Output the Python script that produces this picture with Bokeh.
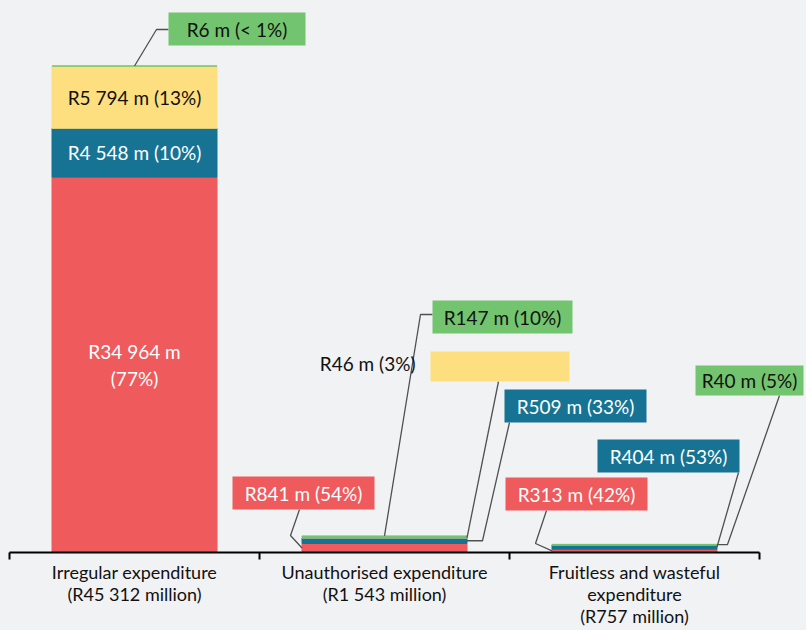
from bokeh.plotting import figure
from bokeh.models import Range1d, FixedTicker, ColumnDataSource, GlobalInlineStyleSheet
from bokeh.core.properties import value
from bokeh.embed import file_html
from bokeh.resources import INLINE

# ---------------- data ----------------
categories = ["Irregular expenditure", "Unauthorised expenditure", "Fruitless and wasteful\nexpenditure"]
red_values = [34964, 841, 313]
blue_values = [4548, 509, 404]
yellow_values = [5794, 46, 0]
green_values = [6, 147, 40]
red_pct = ["77%", "54%", "42%"]
blue_pct = ["10%", "33%", "53%"]
yellow_pct = ["13%", "3%", ""]
green_pct = ["< 1%", "10%", "5%"]

# ---------------- style ----------------
RED, BLUE, YELLOW, GREEN = "#EF5A5C", "#167394", "#FDDF80", "#73C46F"
BG = "#F1F2F4"
FONT = "Lato"
W, H = 806, 630
AXIS_H = 78
FRAME_H = H - AXIS_H
PX_PER_X = 250.0
X0 = -9 / PX_PER_X
X1 = X0 + W / PX_PER_X
Y_PER_PX = 45312 / 486.5
Y_END = FRAME_H * Y_PER_PX
BAR_W = 0.66


def fmt(v):
    return f"{v:,}".replace(",", " ")


def dx(px):  # page pixel -> data x
    return X0 + px / PX_PER_X


def dy(py):  # page pixel -> data y
    return (FRAME_H - py) * Y_PER_PX


n = len(categories)
xc = [i + 0.5 for i in range(n)]
totals = [r + b + y + g for r, b, y, g in zip(red_values, blue_values, yellow_values, green_values)]
layers = {"red": red_values, "blue": blue_values, "yellow": yellow_values, "green": green_values}
pcts = {"red": red_pct, "blue": blue_pct, "yellow": yellow_pct, "green": green_pct}
order = ["red", "blue", "yellow", "green"]

src = ColumnDataSource(dict(x=xc, **layers))

p = figure(width=W, height=H, x_range=Range1d(X0, X1), y_range=Range1d(0, Y_END),
           output_backend="svg", toolbar_location=None, y_axis_location=None,
           background_fill_color=BG, border_fill_color=BG, outline_line_color=None,
           min_border_left=0, min_border_right=0, min_border_top=0, min_border_bottom=AXIS_H)
p.stylesheets = [GlobalInlineStyleSheet(css=f"body {{ background-color: {BG}; }}")]
p.xgrid.visible = False
p.ygrid.visible = False

colors = [RED, BLUE, YELLOW, GREEN]
p.vbar_stack(order, x="x", width=BAR_W, source=src, color=colors, line_color=colors, line_width=1)


def layer_bounds(i, name):
    base = 0
    for nm in order:
        if nm == name:
            return base, base + layers[nm][i]
        base += layers[nm][i]


def label_text(i, name):
    return f"R{fmt(layers[name][i])} m ({pcts[name][i]})"


# labels inside the first bar
in_x, in_y, in_t, in_c = [], [], [], []
for name, col in [("yellow", "#111111"), ("blue", "white"), ("red", "white")]:
    lo, hi = layer_bounds(0, name)
    in_x.append(xc[0])
    in_y.append((lo + hi) / 2)
    if name == "red":
        in_t.append(f"R{fmt(layers[name][0])} m\n({pcts[name][0]})")
    else:
        in_t.append(label_text(0, name))
    in_c.append(col)
p.text(in_x, in_y, text=in_t, text_color=in_c, text_align="center", text_baseline="middle",
       text_font=value(FONT), text_font_size=value("19px"), text_line_height=1.15)

# callout boxes: (category, layer, box page rect l,t,r,b, text colour, leader start, bends, anchor side, text inside)
callouts = [
    (0, "green", (168, 12, 305, 45), "#111111", (168, 29), [(156, 29)], "top", True),
    (1, "red", (232, 476, 374, 509), "white", (299, 509), [(290, 535)], "left", True),
    (1, "green", (432, 300, 572, 333), "#111111", (432, 314), [(420, 314)], "top", True),
    (1, "yellow", (430, 351, 569, 381), "#111111", (498, 381), [], "right", False),
    (1, "blue", (504, 389, 646, 422), "white", (509, 422), [(482, None)], "right", True),
    (2, "red", (505, 477, 647, 510), "white", (546, 510), [(535, 543)], "left", True),
    (2, "blue", (597, 439, 739, 472), "white", (738, 472), [], "right", True),
    (2, "green", (695, 365, 803, 395), "#111111", (779, 395), [(727, None)], "right", True),
]
colmap = dict(zip(order, colors))
q = dict(left=[], right=[], top=[], bottom=[], color=[])
t_in = dict(x=[], y=[], text=[], color=[])
t_out = dict(x=[], y=[], text=[])
lx, ly = [], []
for ci, name, (l, t, r, b), tcol, start, bends, side, inside in callouts:
    q["left"].append(dx(l)); q["right"].append(dx(r))
    q["top"].append(dy(t)); q["bottom"].append(dy(b))
    q["color"].append(colmap[name])
    if inside:
        t_in["x"].append(dx((l + r) / 2)); t_in["y"].append(dy((t + b) / 2))
        t_in["text"].append(label_text(ci, name)); t_in["color"].append(tcol)
    else:
        t_out["x"].append(dx(l - 15)); t_out["y"].append(dy((t + b) / 2 - 3))
        t_out["text"].append(label_text(ci, name))
    lo, hi = layer_bounds(ci, name)
    if side == "top":
        ax, ay = xc[ci], totals[ci]
    elif side == "left":
        ax, ay = xc[ci] - BAR_W / 2, (lo + hi) / 2
    else:
        ax, ay = xc[ci] + BAR_W / 2, (lo + hi) / 2
    xs = [dx(start[0])] + [dx(bx) for bx, by in bends] + [ax]
    ys = [dy(start[1])] + [ay if by is None else dy(by) for bx, by in bends] + [ay]
    lx.append(xs); ly.append(ys)

p.multi_line(lx, ly, line_color="#505050", line_width=1.3)
p.quad(left=q["left"], right=q["right"], top=q["top"], bottom=q["bottom"],
       fill_color=q["color"], line_color=None)
p.text(t_in["x"], t_in["y"], text=t_in["text"], text_color=t_in["color"], text_align="center",
       text_baseline="middle", text_font=value(FONT), text_font_size=value("19px"))
p.text(t_out["x"], t_out["y"], text=t_out["text"], text_color="#111111", text_align="right",
       text_baseline="middle", text_font=value(FONT), text_font_size=value("19px"))

# axis
ax_ = p.xaxis[0]
ax_.ticker = FixedTicker(ticks=xc, minor_ticks=[float(i) for i in range(n + 1)])
ax_.bounds = (0, n)
ax_.major_label_overrides = {x: f"{c}\n(R{fmt(tot)} million)" for x, c, tot in zip(xc, categories, totals)}
ax_.major_tick_line_color = None
ax_.major_tick_out = 0
ax_.minor_tick_line_color = "black"
ax_.minor_tick_line_width = 2
ax_.minor_tick_out = 7
ax_.minor_tick_in = 0
ax_.axis_line_color = "black"
ax_.axis_line_width = 2
ax_.major_label_text_font = FONT
ax_.major_label_text_font_size = "18px"
ax_.major_label_text_color = "#111111"
ax_.major_label_standoff = 1
ax_.major_label_text_line_height = 1.0

open("out.html", "w").write(file_html(p, INLINE))
